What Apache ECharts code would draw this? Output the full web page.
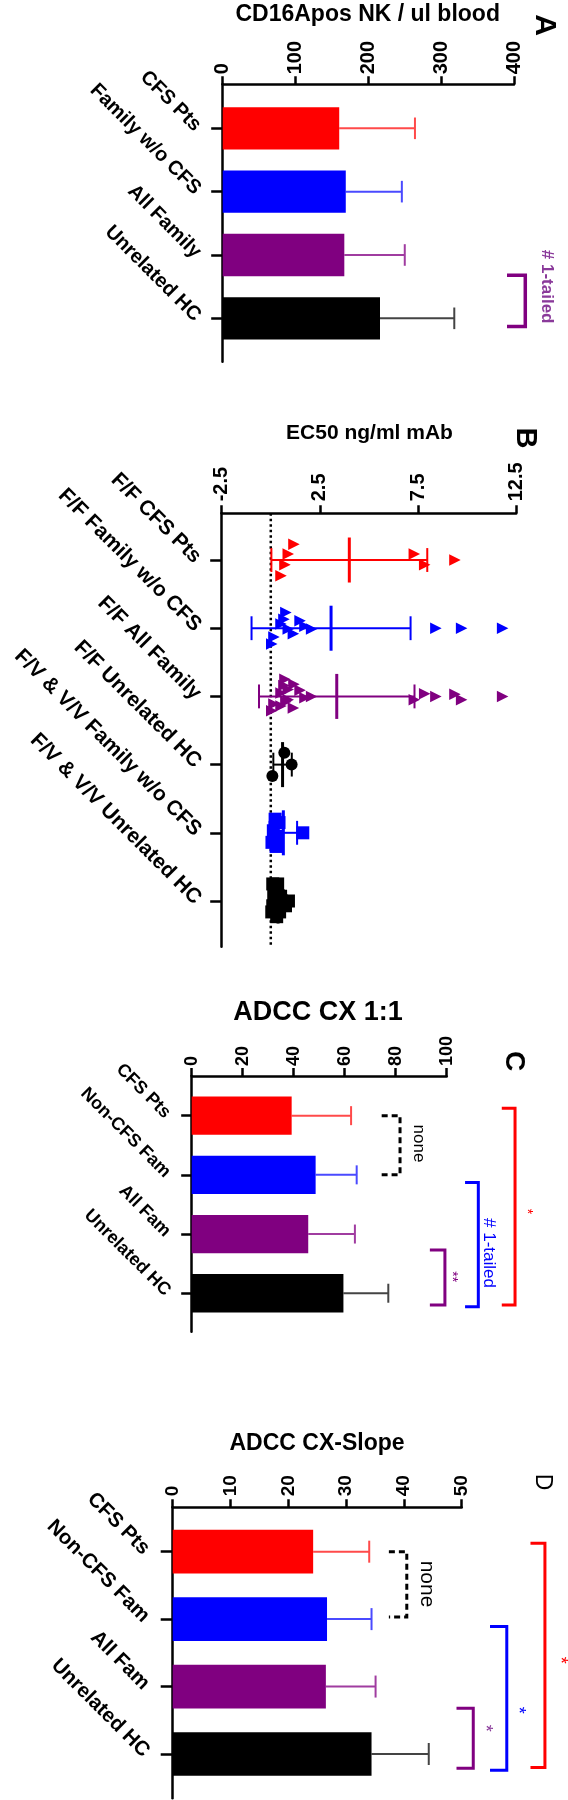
<!DOCTYPE html>
<html>
<head>
<meta charset="utf-8">
<script src="https://cdn.jsdelivr.net/npm/echarts@6/dist/echarts.min.js"></script>
<style>
html,body{margin:0;padding:0;background:#fff;}
#chart{width:568px;height:1800px;}
</style>
</head>
<body>
<div id="chart"></div>
<script>
// ---------------- DATA ----------------
// Panel A : CD16Apos NK / ul blood
const catsA = ['CFS Pts', 'Family w/o CFS', 'All Family', 'Unrelated HC'];
const meanA = [160, 169, 167, 216];
const sdA = [104, 77, 83, 102];
const ticksA = [0, 100, 200, 300, 400];

// Panel B : EC50 ng/ml mAb
const catsB = ['F/F CFS Pts', 'F/F Family w/o CFS', 'F/F All Family', 'F/F Unrelated HC',
  'F/V & V/V Family w/o CFS', 'F/V & V/V Unrelated HC'];
const ticksB = [-2.5, 2.5, 7.5, 12.5];
const ffCfsPts = [1.18, 0.89, 0.72, 0.52, 7.31, 7.84, 9.38];
const ffCfsPtsJitter = [-0.23, -0.09, 0.07, 0.23, -0.09, 0.07, 0];
const ffFamily = [0.77, 0.67, 0.52, 1.49, 1.74, 2.08, 0.89, 1.15, 0.16, 0.05, 8.41, 9.72, 11.81];
const ffFamilyJitter = [-0.23, -0.13, -0.06, -0.11, -0.03, 0.01, 0.01, 0.08, 0.13, 0.23, 0, 0, 0];
const ffAllFamily = [1.18, 0.89, 0.72, 0.52, 7.31, 7.84, 9.38, 0.77, 0.67, 0.52, 1.49, 1.74, 2.08, 0.89, 1.15, 0.16, 0.05, 8.41, 9.72, 11.81];
const ffAllFamilyJitter = [-0.18, -0.10, -0.25, -0.05, 0.05, -0.04, -0.03, 0.08, -0.16, 0.14, -0.09, 0.02, 0, 0.05, 0.17, 0.11, 0.21, 0, 0.05, 0];
const ffUnrelated = [0.69, 1.06, 0.08];
const ffUnrelatedJitter = [-0.175, 0, 0.167];
const fvFamily = [0.22, 0.42, 0.13, 0.32, 0.06, 0.27, 1.63];
const fvFamilyJitter = [-0.2, -0.15, -0.03, 0.05, 0.14, 0.2, 0];
const fvUnrelated = [0.1, 0.35, 0.2, 0.5, 0.15, 0.9, 0.55, 0.75, 0.1, 0.45, 0.05, 0.3];
const fvUnrelatedJitter = [-0.25, -0.25, -0.16, -0.07, -0.07, 0, 0, 0.07, 0.07, 0.16, 0.16, 0.23];
const meanB = [4.0, 3.07, 3.36, 0.6, 0.64, 0.37];
const sdB = [3.97, 4.05, 3.96, 0.47, 0.7, 0.28];

// Panel C : ADCC CX 1:1
const catsC = ['CFS Pts', 'Non-CFS Fam', 'All Fam', 'Unrelated HC'];
const meanC = [39.2, 48.6, 45.7, 59.5];
const sdC = [23.3, 16.1, 18.3, 17.6];
const ticksC = [0, 20, 40, 60, 80, 100];

// Panel D : ADCC CX-Slope
const catsD = ['CFS Pts', 'Non-CFS Fam', 'All Fam', 'Unrelated HC'];
const meanD = [24.3, 26.7, 26.5, 34.4];
const sdD = [9.7, 7.7, 8.6, 9.9];
const ticksD = [0, 10, 20, 30, 40, 50];

// ---------------- STYLE ----------------
const FONT = "'Liberation Sans', Arial, Helvetica, sans-serif";
const RED = '#ff0000', BLUE = '#0000ff', PURPLE = '#800080', BLACK = '#000000';
const barColors = [RED, BLUE, PURPLE, BLACK];
const whiskerColors = ['#ff4a4a', '#4a4aff', '#a03ca0', '#444444'];
const groupColorsB = [RED, BLUE, PURPLE, BLACK, BLUE, BLACK];

function valAxis(gi, ticks, fontSize, margin) {
  return {
    type: 'value', gridIndex: gi, position: 'top',
    min: ticks[0], max: ticks[ticks.length - 1],
    axisLine: { show: true, onZero: false, lineStyle: { color: '#000', width: 2.5 } },
    axisTick: { show: true, length: 8, customValues: ticks, lineStyle: { color: '#000', width: 2.5 } },
    axisLabel: { rotate: -90, margin: margin, customValues: ticks, color: '#000',
      fontFamily: FONT, fontWeight: 'bold', fontSize: fontSize },
    splitLine: { show: false }
  };
}
function catAxis(gi, cats, min, max, fontSize, margin, tickLen) {
  const idx = cats.map((_, i) => i);
  return {
    type: 'value', gridIndex: gi, position: 'left', inverse: true, min: min, max: max,
    axisLine: { show: true, onZero: false, lineStyle: { color: '#000', width: 2.5 } },
    axisTick: { show: true, length: tickLen, customValues: idx, lineStyle: { color: '#000', width: 2.5 } },
    axisLabel: { rotate: -45, margin: margin, customValues: idx, formatter: v => cats[Math.round(v)],
      align: 'right', verticalAlign: 'middle',
      color: '#000', fontFamily: FONT, fontWeight: 'bold', fontSize: fontSize },
    splitLine: { show: false }
  };
}
function textEl(x, y, text, font, color, rot) {
  return { type: 'text', x: x, y: y, rotation: rot || 0,
    style: { text: text, font: font, fill: color, textAlign: 'center', textVerticalAlign: 'middle',
      align: 'center', verticalAlign: 'middle' } };
}
function barSeries(gi, means, sds, barW, capHalf) {
  return {
    type: 'custom', xAxisIndex: gi, yAxisIndex: gi, z: 3,
    data: means.map((m, i) => [m, i, sds[i]]),
    encode: { x: 0, y: 1 },
    renderItem: (params, api) => {
      const i = params.dataIndex;
      const m = api.value(0), c = api.value(1), s = api.value(2);
      const p0 = api.coord([0, c]), p1 = api.coord([m, c]), p2 = api.coord([m + s, c]);
      return { type: 'group', children: [
        { type: 'line', shape: { x1: p1[0], y1: p1[1], x2: p2[0], y2: p2[1] },
          style: { stroke: whiskerColors[i], lineWidth: 2 } },
        { type: 'line', shape: { x1: p2[0], y1: p2[1] - capHalf, x2: p2[0], y2: p2[1] + capHalf },
          style: { stroke: whiskerColors[i], lineWidth: 2 } },
        { type: 'rect', shape: { x: p0[0], y: p0[1] - barW / 2, width: p1[0] - p0[0], height: barW },
          style: { fill: barColors[i] } }
      ] };
    }
  };
}
// brackets: from/to in category units, at = bracket line value, arm = arm end value
function bracketSeries(gi, list) {
  return {
    type: 'custom', xAxisIndex: gi, yAxisIndex: gi, z: 4,
    data: list.map(b => [b.at, b.from]),
    encode: { x: 0, y: 1 },
    renderItem: (params, api) => {
      const b = list[params.dataIndex];
      const pts = [api.coord([b.arm, b.from]), api.coord([b.at, b.from]),
                   api.coord([b.at, b.to]), api.coord([b.arm, b.to])];
      const tp = api.coord([b.textAt, b.textCat]);
      return { type: 'group', children: [
        { type: 'polyline', shape: { points: pts },
          style: { stroke: b.color, lineWidth: b.lw || 3, fill: null, lineDash: b.dash ? [6, 4] : null } },
        textEl(tp[0], tp[1], b.text, b.font, b.textColor || b.color, -Math.PI / 2)
      ] };
    }
  };
}
function scatterB(vals, jit, cat, symbol, size, color) {
  return {
    type: 'scatter', xAxisIndex: 1, yAxisIndex: 1, z: 3,
    symbol: symbol, symbolSize: size, symbolRotate: symbol === 'triangle' ? -90 : 0,
    itemStyle: { color: color, opacity: 1 },
    data: vals.map((v, i) => [v, cat + jit[i]])
  };
}

const option = {
  animation: false,
  backgroundColor: '#fff',
  grid: [
    { left: 222.7, top: 84.3, width: 291.3, height: 277.4 },
    { left: 221.7, top: 513.3, width: 294.5, height: 433.4 },
    { left: 191.7, top: 1076, width: 255, height: 255.7 },
    { left: 172.7, top: 1507.3, width: 289, height: 291 }
  ],
  xAxis: [
    valAxis(0, ticksA, 20, 10),
    valAxis(1, ticksB, 20, 12),
    valAxis(2, ticksC, 18, 10),
    valAxis(3, ticksD, 19, 11)
  ],
  yAxis: [
    catAxis(0, catsA, -0.695, 3.685, 20, 25, 11.5),
    catAxis(1, catsB, -0.685, 5.67, 21, 24, 11.5),
    catAxis(2, catsC, -0.67, 3.65, 18, 24, 10.5),
    catAxis(3, catsD, -0.658, 3.657, 20.5, 26.5, 12)
  ],
  graphic: [
    textEl(367.7, 15, 'CD16Apos NK / ul blood', 'bold 23px ' + FONT, '#000'),
    textEl(544, 25, 'A', 'bold 30px ' + FONT, '#000', -Math.PI / 2),
    textEl(369.5, 433, 'EC50 ng/ml mAb', 'bold 21px ' + FONT, '#000'),
    textEl(525, 438, 'B', 'bold 29px ' + FONT, '#000', -Math.PI / 2),
    textEl(318, 1013, 'ADCC CX 1:1', 'bold 27px ' + FONT, '#000'),
    textEl(514, 1061, 'C', 'bold 28px ' + FONT, '#000', -Math.PI / 2),
    textEl(317, 1444, 'ADCC CX-Slope', 'bold 23px ' + FONT, '#000'),
    textEl(542, 1482, 'D', '23px ' + FONT, '#000', -Math.PI / 2)
  ],
  series: [
    // Panel A
    barSeries(0, meanA, sdA, 42.3, 10.8),
    bracketSeries(0, [
      { from: 2.32, to: 3.13, at: 415.5, arm: 390.4, color: PURPLE, lw: 3.5,
        text: '# 1-tailed', textAt: 445.3, textCat: 2.5, font: 'bold 17px ' + FONT, textColor: '#8a3a9a' }
    ]),
    // Panel B
    {
      type: 'custom', xAxisIndex: 1, yAxisIndex: 1, z: 1, data: [[0, 0]], encode: { x: 0, y: 1 },
      renderItem: (params, api) => {
        const cs = params.coordSys;
        const px = api.coord([api.value(0), 0])[0];
        return { type: 'line', shape: { x1: px, y1: cs.y, x2: px, y2: cs.y + cs.height },
          style: { stroke: '#000', lineWidth: 2.5, lineDash: [2.5, 3] } };
      }
    },
    scatterB(ffCfsPts, ffCfsPtsJitter, 0, 'triangle', 11.5, RED),
    scatterB(ffFamily, ffFamilyJitter, 1, 'triangle', 11.5, BLUE),
    scatterB(ffAllFamily, ffAllFamilyJitter, 2, 'triangle', 11.5, PURPLE),
    scatterB(ffUnrelated, ffUnrelatedJitter, 3, 'circle', 12, BLACK),
    scatterB(fvFamily, fvFamilyJitter, 4, 'rect', 13, BLUE),
    scatterB(fvUnrelated, fvUnrelatedJitter, 5, 'rect', 13, BLACK),
    {
      type: 'custom', xAxisIndex: 1, yAxisIndex: 1, z: 4,
      data: meanB.map((m, i) => [m, i, sdB[i]]), encode: { x: 0, y: 1 },
      renderItem: (params, api) => {
        const i = params.dataIndex;
        const m = api.value(0), c = api.value(1), s = api.value(2);
        const pm = api.coord([m, c]), pl = api.coord([m - s, c]), pr = api.coord([m + s, c]);
        const half = api.size([0, 0.33])[1], cap = api.size([0, 0.175])[1];
        const col = groupColorsB[i];
        return { type: 'group', children: [
          { type: 'line', shape: { x1: pl[0], y1: pl[1], x2: pr[0], y2: pr[1] }, style: { stroke: col, lineWidth: 2 } },
          { type: 'line', shape: { x1: pl[0], y1: pl[1] - cap, x2: pl[0], y2: pl[1] + cap }, style: { stroke: col, lineWidth: 2 } },
          { type: 'line', shape: { x1: pr[0], y1: pr[1] - cap, x2: pr[0], y2: pr[1] + cap }, style: { stroke: col, lineWidth: 2 } },
          { type: 'line', shape: { x1: pm[0], y1: pm[1] - half, x2: pm[0], y2: pm[1] + half }, style: { stroke: col, lineWidth: 3 } }
        ] };
      }
    },
    // Panel C
    barSeries(2, meanC, sdC, 38.3, 9.5),
    bracketSeries(2, [
      { from: 0, to: 1, at: 81.7, arm: 74.5, color: BLACK, dash: true, lw: 3,
        text: 'none', textAt: 88.9, textCat: 0.47, font: '17px ' + FONT },
      { from: 2.27, to: 3.2, at: 99.3, arm: 93.4, color: PURPLE, lw: 3,
        text: '**', textAt: 102.2, textCat: 2.72, font: '14px ' + FONT },
      { from: 1.13, to: 3.23, at: 112.4, arm: 107.2, color: BLUE, lw: 3,
        text: '# 1-tailed', textAt: 116.5, textCat: 2.32, font: '17px ' + FONT },
      { from: -0.125, to: 3.2, at: 126.8, arm: 121.6, color: RED, lw: 3,
        text: '*', textAt: 131.5, textCat: 1.62, font: '14px ' + FONT }
    ]),
    // Panel D
    barSeries(3, meanD, sdD, 43.7, 11),
    bracketSeries(3, [
      { from: 0, to: 0.97, at: 40.5, arm: 37.4, color: BLACK, dash: true, lw: 3,
        text: 'none', textAt: 44.0, textCat: 0.48, font: '21px ' + FONT },
      { from: 2.32, to: 3.21, at: 52.0, arm: 49.1, color: PURPLE, lw: 3,
        text: '*', textAt: 54.0, textCat: 2.62, font: '18px ' + FONT, textColor: '#8a3a9a' },
      { from: 1.11, to: 3.24, at: 57.8, arm: 54.9, color: BLUE, lw: 3,
        text: '*', textAt: 59.8, textCat: 2.35, font: '18px ' + FONT },
      { from: -0.125, to: 3.2, at: 64.4, arm: 61.9, color: RED, lw: 3,
        text: '*', textAt: 67.0, textCat: 1.61, font: '18px ' + FONT }
    ])
  ]
};

const chart = echarts.init(document.getElementById('chart'), null, { renderer: 'canvas', width: 568, height: 1800 });
chart.setOption(option);
</script>
</body>
</html>
